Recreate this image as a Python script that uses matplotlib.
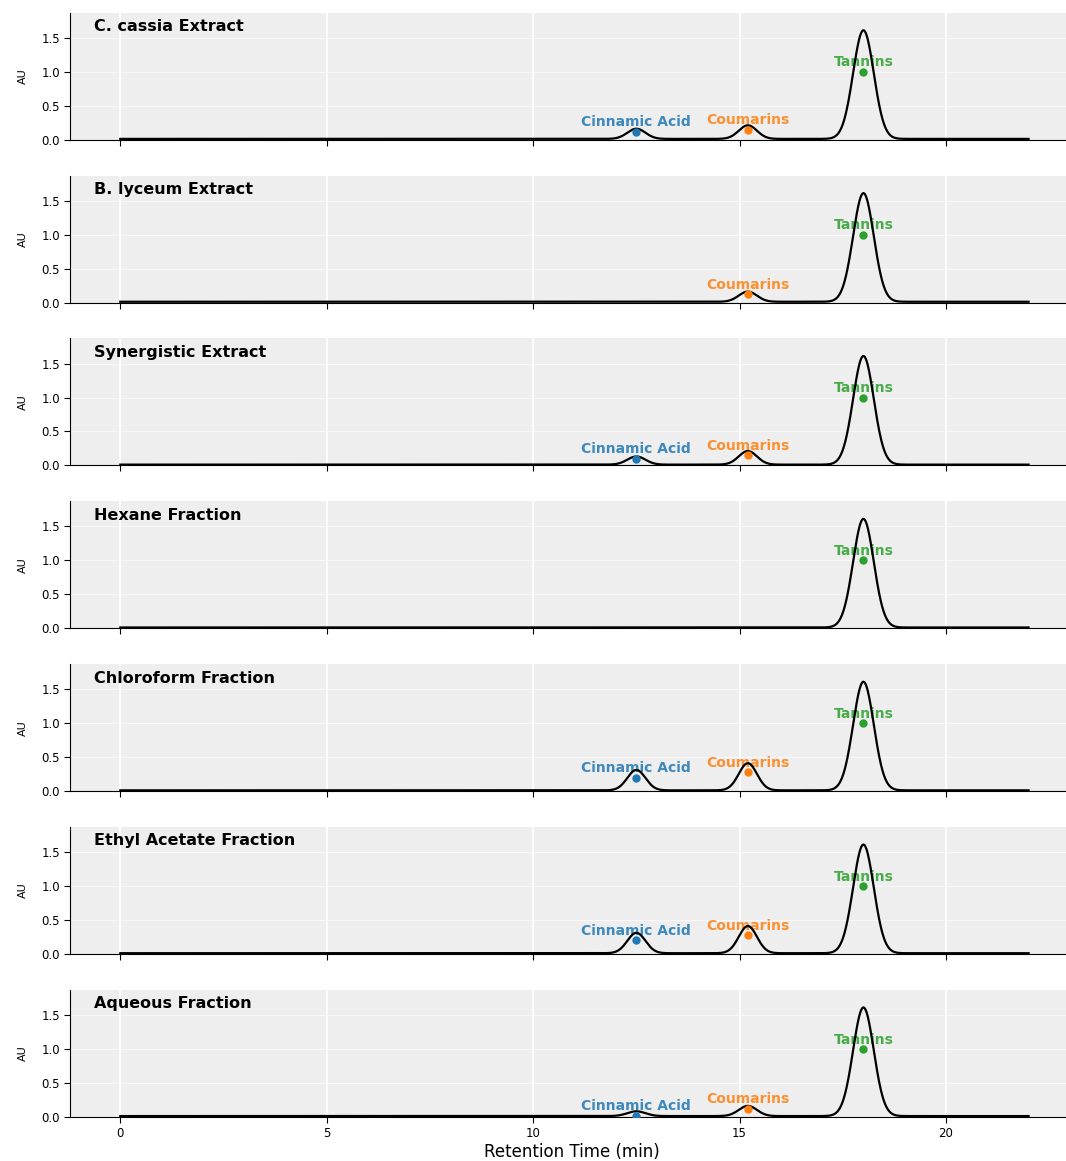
import numpy as np
import matplotlib
matplotlib.use("Agg")
import matplotlib.pyplot as plt

# samples (one panel each)
samples = ["C. cassia Extract", "B. lyceum Extract", "Synergistic Extract",
           "Hexane Fraction", "Chloroform Fraction", "Ethyl Acetate Fraction",
           "Aqueous Fraction"]

compounds = ["Cinnamic Acid", "Coumarins", "Tannins"]
rt = [12.5, 15.2, 18.0]          # retention time (min)
widths = [0.22, 0.22, 0.25]      # peak sigma (min)
colors = ["#1f77b4", "#ff7f0e", "#2ca02c"]

# peak heights (AU) per sample: cinnamic, coumarins, tannins
peak_heights = [
    [0.15, 0.20, 1.60],
    [0.00, 0.15, 1.60],
    [0.12, 0.20, 1.60],
    [0.00, 0.00, 1.60],
    [0.30, 0.40, 1.60],
    [0.30, 0.40, 1.60],
    [0.07, 0.15, 1.60],
]
# marker values (AU) per sample; None = not detected
marker_vals = [
    [0.12, 0.15, 1.0],
    [None, 0.12, 1.0],
    [0.10, 0.15, 1.0],
    [None, None, 1.0],
    [0.20, 0.28, 1.0],
    [0.20, 0.28, 1.0],
    [0.02, 0.12, 1.0],
]

t = np.linspace(0, 22, 2000)

fig, axes = plt.subplots(len(samples), 1, figsize=(10.66, 11.61), dpi=100, sharex=True)
fig.subplots_adjust(left=0.066, right=1.0075, top=0.989, bottom=0.038, hspace=0.283)

for ax, name, heights, marks in zip(axes, samples, peak_heights, marker_vals):
    ax.set_facecolor("#eeeeee")
    signal = np.zeros_like(t) + 0.012
    for r, w, h in zip(rt, widths, heights):
        signal += h * np.exp(-0.5 * ((t - r) / w) ** 2)
    ax.plot(t, signal, color="black", lw=1.6, zorder=3)
    for cname, r, m, c in zip(compounds, rt, marks, colors):
        if m is None:
            continue
        ax.scatter([r], [m], color=c, s=25, zorder=4)
        ax.text(r, m + 0.035, cname, color=c, fontsize=10, fontweight="bold",
                ha="center", va="bottom", alpha=0.85, zorder=2)
    ax.text(0.024, 0.95, name, transform=ax.transAxes, fontsize=11.5,
            fontweight="bold", va="top", ha="left")
    ax.set_ylim(0, 1.87)
    ax.set_yticks([0.0, 0.5, 1.0, 1.5])
    ax.set_ylabel("AU", fontsize=8, labelpad=10)
    ax.tick_params(labelsize=8.5, length=4)
    ax.grid(True, axis="x", color="white", lw=1.2)
    ax.grid(True, axis="y", color="white", lw=0.8, alpha=0.6)
    ax.set_axisbelow(True)
    for s in ["top", "right"]:
        ax.spines[s].set_visible(False)

axes[-1].set_xlim(-1.21, 23.1)
axes[-1].set_xticks([0, 5, 10, 15, 20])
axes[-1].set_xlabel("Retention Time (min)", fontsize=12, labelpad=2)

fig.savefig("out.png", dpi=100)
